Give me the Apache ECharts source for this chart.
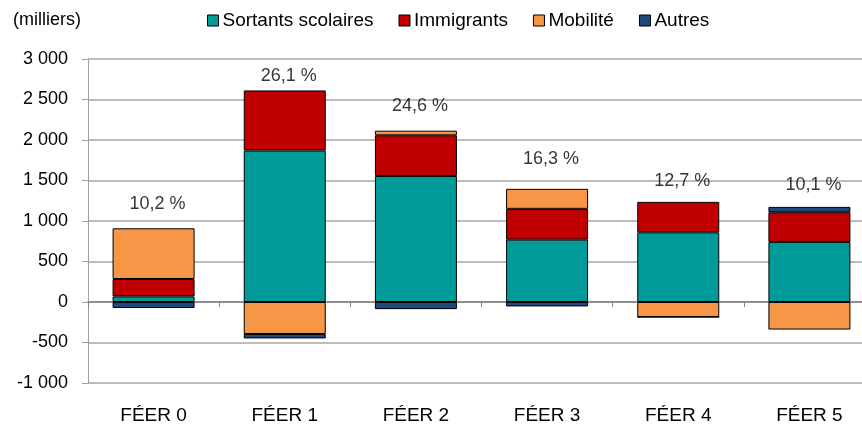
<!DOCTYPE html>
<html>
<head>
<meta charset="utf-8">
<script src="https://cdn.jsdelivr.net/npm/echarts@6/dist/echarts.min.js"></script>
<style>
html,body{margin:0;padding:0;background:#fff;overflow:hidden;width:862px;height:428px;}
#chart{width:875px;height:428px;}
</style>
</head>
<body>
<div id="chart"></div>
<script>
const categories = ['FÉER 0', 'FÉER 1', 'FÉER 2', 'FÉER 3', 'FÉER 4', 'FÉER 5'];
const sortants = [69, 1870, 1556, 770, 860, 742];
const immigrants = [215, 742, 502, 380, 376, 366];
const mobilite = [626, -395, 57, 247, -185, -340];
const autres = [-74, -55, -88, -55, 0, 66];
const pctLabels = ['10,2 %', '26,1 %', '24,6 %', '16,3 %', '12,7 %', '10,1 %'];
const pctLabelY = [1209, 2791, 2414, 1759, 1491, 1450];
const yTicks = { min: -1000, max: 3000, interval: 500 };

const FONT = "'Liberation Sans Narrow', 'Liberation Sans', Arial, sans-serif";
const chart = echarts.init(document.getElementById('chart'), null, { renderer: 'canvas' });

function fmt(v) {
  const s = Math.abs(v).toString().replace(/\B(?=(\d{3})+(?!\d))/g, ' ');
  return (v < 0 ? '-' : '') + s;
}

const barStyle = (c) => ({ color: c, borderColor: '#000', borderWidth: 1 });

chart.setOption({
  animation: false,
  backgroundColor: '#fff',
  title: {
    text: '(milliers)', left: 8, top: 6,
    textStyle: { fontFamily: FONT, fontSize: 18, fontWeight: 'normal', color: '#000' }
  },
  legend: {
    left: 202, top: 6, itemWidth: 11, itemHeight: 11, itemGap: 25,
    icon: 'rect',
    textStyle: { fontFamily: FONT, fontSize: 19, color: '#000', padding: [0, 0, 0, -1] },
    data: ['Sortants scolaires', 'Immigrants', 'Mobilité', 'Autres'].map(n => ({ name: n, itemStyle: { borderColor: '#000', borderWidth: 1 } }))
  },
  grid: { left: 88, right: 0, top: 59, bottom: 45, containLabel: false },
  xAxis: [
    {
      type: 'category', data: categories, position: 'bottom',
      axisLine: { onZero: true, lineStyle: { color: '#808080', width: 1.5 } },
      axisTick: { show: true, length: 5, lineStyle: { color: '#808080' } },
      axisLabel: { show: false }
    },
    {
      type: 'category', data: categories, position: 'bottom',
      axisLine: { show: false, onZero: false }, axisTick: { show: false },
      axisLabel: { fontFamily: FONT, fontSize: 19, color: '#000', margin: 23 }
    }
  ],
  yAxis: {
    type: 'value', min: yTicks.min, max: yTicks.max, interval: yTicks.interval,
    axisLine: { show: true, lineStyle: { color: '#a0a0a0', width: 1 } },
    axisTick: { show: true, length: 6, lineStyle: { color: '#a0a0a0' } },
    splitLine: { lineStyle: { color: '#bcbcbc', width: 2 } },
    axisLabel: { fontFamily: FONT, fontSize: 18, color: '#000', margin: 20, formatter: fmt }
  },
  series: [
    { name: 'Sortants scolaires', type: 'bar', stack: 'a', barWidth: 82, data: sortants, itemStyle: barStyle('#009a98') },
    { name: 'Immigrants', type: 'bar', stack: 'a', data: immigrants, itemStyle: barStyle('#c00000') },
    { name: 'Mobilité', type: 'bar', stack: 'a', data: mobilite, itemStyle: barStyle('#f79646') },
    { name: 'Autres', type: 'bar', stack: 'a', data: autres, itemStyle: barStyle('#1f497d') },
    {
      type: 'scatter', symbolSize: 0, data: pctLabelY, silent: true,
      label: {
        show: true, position: 'inside', offset: [4, 0],
        fontFamily: FONT, fontSize: 18, color: '#000',
        formatter: (p) => pctLabels[p.dataIndex]
      }
    }
  ]
});
</script>
</body>
</html>
